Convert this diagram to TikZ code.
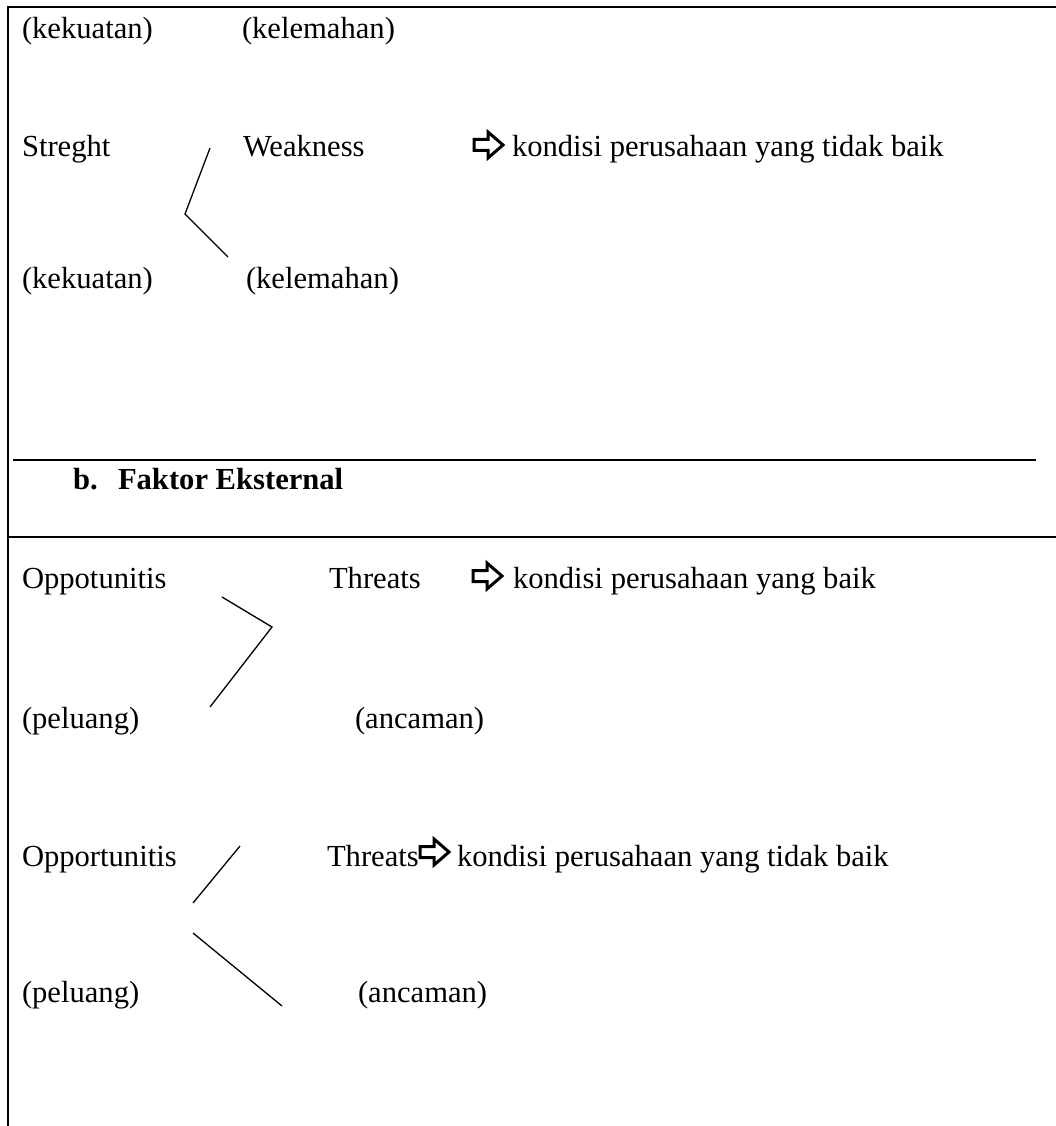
\documentclass[tikz,border=0pt]{standalone}
\usepackage{fontspec}
\setmainfont{Liberation Serif}
\begin{document}
\begin{tikzpicture}[x=1pt,y=-1pt,
  txt/.style={anchor=base west,inner sep=0pt,outer sep=0pt,font=\fontsize{30.6}{36}\selectfont},
  btxt/.style={txt,font=\fontsize{30.6}{36}\selectfont\bfseries},
  rulethick/.style={line width=2pt},
  rulethin/.style={line width=1.3pt},
  diag/.style={line width=1.3pt},
  hollowarrow/.pic={\draw[line width=3pt,line join=miter,fill=white] (0,-5.5) -- (14,-5.5) -- (14,-13) -- (29,0) -- (14,13) -- (14,5.5) -- (0,5.5) -- cycle;}
]
\useasboundingbox (0,0) rectangle (1056,1126);
% frame
\coordinate (tl) at (8,7);
\coordinate (tr) at (1056,7);
\coordinate (bl) at (8,1126);
\draw[rulethick] (tr) -- (tl) -- (bl);
\coordinate (m1a) at (13,460);
\coordinate (m1b) at (1036,460);
\draw[rulethin] (m1a) -- (m1b);
\coordinate (m2a) at (8,537);
\coordinate (m2b) at (1056,537);
\draw[rulethick] (m2a) -- (m2b);

% row 1
\node[txt] (r1a) at (22,39) {(kekuatan)};
\node[txt] (r1b) at (242,39) {(kelemahan)};
% row 2
\node[txt] (r2a) at (22,157) {Streght};
\node[txt] (r2b) at (243,157) {Weakness};
\pic at (474,145) {hollowarrow};
\node[txt] (r2c) at (512,157) {kondisi perusahaan yang tidak baik};
\coordinate (l1a) at (210,148);
\coordinate (l1b) at (185,214);
\coordinate (l1c) at (228,257);
\draw[diag] (l1a) -- (l1b) -- (l1c);
% row 3
\node[txt] (r3a) at (22,288) {(kekuatan)};
\node[txt] (r3b) at (246,288) {(kelemahan)};
% heading
\node[btxt] (hb) at (73,489) {b.};
\node[btxt] (hf) at (118,489) {Faktor Eksternal};
% row 4
\node[txt] (r4a) at (22,588) {Oppotunitis};
\node[txt] (r4b) at (329,588) {Threats};
\pic at (473,576) {hollowarrow};
\node[txt] (r4c) at (513,588) {kondisi perusahaan yang baik};
\coordinate (l2a) at (222,597);
\coordinate (l2b) at (272,627);
\coordinate (l2c) at (210,707);
\draw[diag] (l2a) -- (l2b) -- (l2c);
% row 5
\node[txt] (r5a) at (22,728) {(peluang)};
\node[txt] (r5b) at (355,728) {(ancaman)};
% row 6
\node[txt] (r6a) at (22,866) {Opportunitis};
\node[txt] (r6b) at (327,866) {Threats};
\pic at (420,852) {hollowarrow};
\node[txt] (r6c) at (457,866) {kondisi perusahaan yang tidak baik};
\coordinate (l3a) at (240,846);
\coordinate (l3b) at (193,903);
\draw[diag] (l3a) -- (l3b);
\coordinate (l4a) at (193,933);
\coordinate (l4b) at (282,1006);
\draw[diag] (l4a) -- (l4b);
% row 7
\node[txt] (r7a) at (22,1002) {(peluang)};
\node[txt] (r7b) at (358,1002) {(ancaman)};
\end{tikzpicture}
\end{document}
